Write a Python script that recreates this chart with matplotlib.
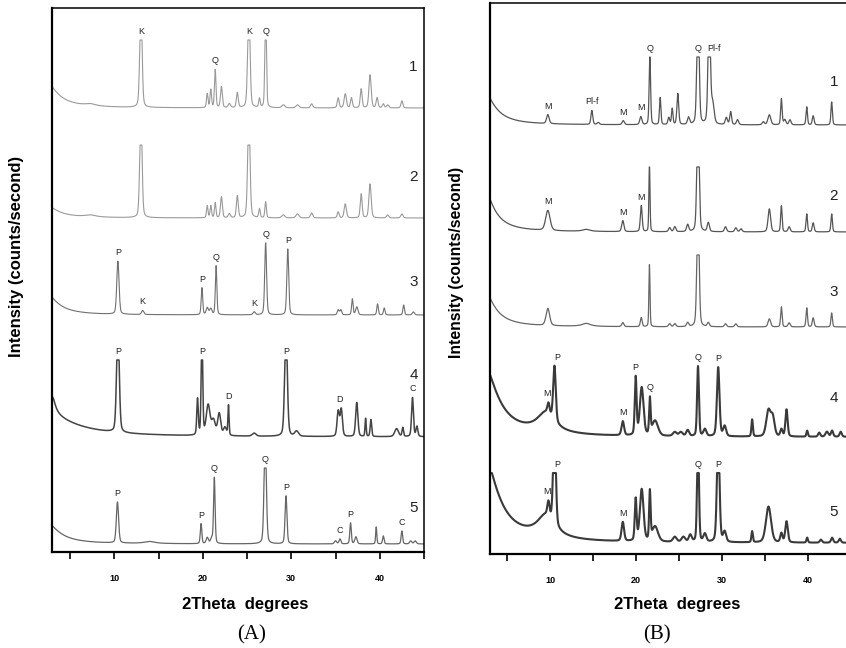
"""
XRD patterns, panels (A) and (B): five diffractograms each, stacked.
Curves are rebuilt from peak lists read off the original figure.
"""

import matplotlib
matplotlib.use("Agg")
import matplotlib.pyplot as plt
from matplotlib.ticker import MultipleLocator, FuncFormatter
import numpy as np

plt.rcParams["font.family"] = ["Liberation Sans", "DejaVu Sans"]

# -------------------------------------------------------------
# Data: (2theta, height, fwhm).  Heights in px above each baseline.
# -------------------------------------------------------------
# panel A
a_base = [444, 334, 237, 115, 8]
a_cap = [68, 73, 200, 77, 76]
a1_bg = [(2.0, 29, 3.2), (7.3, 2, 1.5)]
a1_pk = [(13.0, 110, 0.3), (20.5, 14, 0.2), (20.9, 18, 0.2), (21.4, 38, 0.2),
         (22.1, 21, 0.25), (23.0, 4, 0.3), (23.9, 15, 0.25), (25.2, 110, 0.3),
         (26.4, 9, 0.2), (27.1, 110, 0.2), (29.1, 3, 0.4), (30.7, 3, 0.4),
         (32.3, 4, 0.3), (35.3, 10, 0.25), (36.1, 14, 0.3), (36.8, 10, 0.25),
         (37.9, 19, 0.25), (38.9, 33, 0.3), (39.7, 10, 0.25), (40.4, 4, 0.25),
         (40.9, 3, 0.3), (42.5, 7, 0.25)]
a2_bg = [(2.0, 14, 3.2), (7.3, 2, 1.5)]
a2_pk = [(13.0, 110, 0.3), (20.5, 12, 0.2), (20.9, 12, 0.2), (21.4, 15, 0.2),
         (22.1, 21, 0.25), (23.0, 4, 0.3), (23.9, 22, 0.25), (25.2, 110, 0.3),
         (26.4, 9, 0.2), (27.1, 16, 0.2), (29.1, 3, 0.4), (30.7, 4, 0.4),
         (32.3, 5, 0.3), (35.3, 6, 0.25), (36.1, 14, 0.3), (37.9, 24, 0.25),
         (38.9, 34, 0.3), (40.9, 3, 0.3), (42.5, 4, 0.3)]
a3_bg = [(2.0, 24, 3.2)]
a3_pk = [(10.4, 53, 0.3), (13.2, 4, 0.3), (19.9, 27, 0.2), (20.5, 7, 0.3),
         (20.9, 6, 0.3), (21.5, 49, 0.2), (25.8, 3, 0.3), (27.1, 72, 0.25),
         (29.6, 66, 0.25), (35.3, 5, 0.25), (35.6, 5, 0.25), (36.9, 16, 0.2),
         (37.4, 8, 0.3), (39.75, 11, 0.2), (40.5, 7, 0.2), (42.7, 10, 0.2),
         (43.8, 3, 0.3)]
a4_bg = [(1.0, 30, 8.0), (3.0, 16, 0.8)]
a4_pk = [(10.4, 110, 0.35), (19.4, 36, 0.2), (19.9, 110, 0.2), (20.6, 30, 0.5),
         (21.2, 15, 0.5), (21.85, 22, 0.4), (22.5, 8, 0.4), (22.9, 30, 0.15),
         (25.8, 3, 0.5), (29.4, 110, 0.35), (30.6, 5, 0.5), (35.3, 25, 0.3),
         (35.65, 27, 0.3), (37.4, 34, 0.3), (38.4, 18, 0.15), (39.0, 17, 0.2),
         (41.9, 8, 0.5), (42.6, 9, 0.2), (43.7, 39, 0.25), (44.2, 10, 0.25)]
a5_bg = [(2.0, 24, 3.5), (14.0, 2, 1.5)]
a5_pk = [(10.35, 41, 0.3), (19.8, 20, 0.2), (20.5, 6, 0.3), (21.0, 5, 0.3),
         (21.3, 66, 0.2), (27.05, 110, 0.3), (29.4, 48, 0.25), (35.0, 3, 0.3),
         (35.5, 5, 0.25), (36.7, 21, 0.2), (37.3, 7, 0.3), (39.6, 17, 0.15),
         (40.4, 8, 0.2), (42.5, 13, 0.2), (43.5, 3, 0.3), (44.0, 3, 0.3)]

# (label, peak position[, text position])
a_labels = [
    [("K", 13.0), ("Q", 21.4), ("K", 25.2), ("Q", 27.1)],
    [],
    [("P", 10.4), ("K", 13.2), ("P", 19.9), ("Q", 21.5), ("K", 25.8),
     ("Q", 27.1), ("P", 29.6)],
    [("P", 10.4), ("P", 19.9), ("D", 22.9), ("P", 29.4), ("D", 35.65, 35.5),
     ("C", 43.7)],
    [("P", 10.35), ("P", 19.8), ("Q", 21.3), ("Q", 27.05), ("P", 29.4),
     ("C", 35.5), ("P", 36.7), ("C", 42.5)],
]

# panel B
b_base = [429, 322, 227, 117, 11]
b_cap = [68, 65, 72, 200, 70]
b1_bg = [(2.0, 38, 3.1)]
b1_pk = [(9.73, 9, 0.35), (14.85, 14, 0.25), (15.6, 2, 0.3), (18.5, 4, 0.3),
         (20.55, 8, 0.3), (21.6, 70, 0.2), (22.8, 27, 0.2), (23.8, 7, 0.25),
         (24.2, 16, 0.2), (24.85, 31, 0.25), (26.1, 7, 0.3), (27.2, 130, 0.3),
         (28.5, 130, 0.3), (28.9, 20, 0.4), (30.5, 7, 0.3), (31.0, 13, 0.25),
         (31.8, 5, 0.3), (34.8, 3, 0.3), (35.5, 10, 0.4), (36.9, 26, 0.2),
         (37.3, 5, 0.3), (37.9, 5, 0.3), (39.85, 18, 0.2), (40.6, 9, 0.25),
         (42.75, 23, 0.2)]
b2_bg = [(2.0, 50, 2.8), (14.2, 2, 1.0)]
b2_pk = [(9.73, 20, 0.6), (18.45, 11, 0.3), (20.6, 26, 0.25), (21.55, 68, 0.15),
         (23.9, 4, 0.3), (24.5, 5, 0.3), (26.0, 7, 0.3), (27.2, 130, 0.3),
         (28.4, 9, 0.3), (30.4, 5, 0.3), (31.6, 4, 0.3), (32.2, 3, 0.3),
         (35.5, 23, 0.35), (36.9, 26, 0.2), (37.8, 5, 0.3), (39.85, 18, 0.2),
         (40.6, 9, 0.25), (42.75, 18, 0.2)]
b3_bg = [(2.0, 42, 3.0), (14.2, 3, 1.2)]
b3_pk = [(9.73, 17, 0.5), (18.45, 4, 0.3), (20.6, 9, 0.25), (21.55, 62, 0.15),
         (23.9, 3, 0.3), (24.5, 3, 0.3), (26.0, 4, 0.3), (27.2, 130, 0.3),
         (28.4, 4, 0.3), (30.4, 3, 0.3), (31.6, 3, 0.3), (35.5, 8, 0.35),
         (36.9, 20, 0.2), (37.8, 4, 0.3), (39.85, 19, 0.2), (40.6, 9, 0.25),
         (42.75, 14, 0.2)]
b4_bg = [(2.0, 77, 4.0), (9.5, 20, 2.5)]
b4_pk = [(9.8, 10, 0.3), (10.5, 55, 0.35), (18.45, 14, 0.35), (19.95, 58, 0.25),
         (20.65, 48, 0.5), (21.6, 35, 0.2), (22.2, 15, 0.8), (24.5, 4, 0.5),
         (25.2, 4, 0.5), (26.0, 6, 0.4), (27.2, 70, 0.25), (28.0, 7, 0.4),
         (29.55, 69, 0.35), (30.3, 10, 0.4), (33.5, 17, 0.2), (35.4, 26, 0.6),
         (35.9, 18, 0.5), (36.9, 7, 0.3), (37.5, 27, 0.3), (39.9, 6, 0.2),
         (41.3, 4, 0.3), (42.2, 5, 0.4), (42.8, 6, 0.3), (43.8, 5, 0.3)]
b5_bg = [(2.0, 95, 4.0), (9.5, 22, 2.5)]
b5_pk = [(9.8, 14, 0.3), (10.5, 110, 0.35), (18.45, 19, 0.35), (19.95, 42, 0.25),
         (20.65, 52, 0.5), (21.6, 48, 0.2), (22.2, 15, 0.8), (24.5, 5, 0.5),
         (25.5, 5, 0.5), (26.3, 7, 0.4), (27.2, 110, 0.25), (28.0, 8, 0.4),
         (29.55, 110, 0.35), (30.3, 10, 0.4), (33.5, 11, 0.2), (35.4, 36, 0.7),
         (36.9, 9, 0.3), (37.5, 21, 0.35), (39.9, 5, 0.2), (41.5, 3, 0.3),
         (42.8, 5, 0.3), (43.7, 4, 0.3)]

b_labels = [
    [("M", 9.73), ("Pl-f", 14.85), ("M", 18.5), ("M", 20.55), ("Q", 21.6),
     ("Q", 27.2), ("Pl-f", 28.5, 29.1)],
    [("M", 9.73), ("M", 18.45), ("M", 20.6)],
    [],
    [("M", 9.8, 9.6), ("P", 10.5, 10.8), ("M", 18.45), ("P", 19.95),
     ("Q", 21.6), ("Q", 27.2), ("P", 29.55)],
    [("M", 9.8, 9.6), ("P", 10.5, 10.8), ("M", 18.45), ("Q", 27.2),
     ("P", 29.55)],
]

numbers = ["1", "2", "3", "4", "5"]

# -------------------------------------------------------------
# Helpers
# -------------------------------------------------------------
x = np.linspace(3.0, 45.0, 5000)


def lorentz(c, h, w):
    return h / (1 + ((x - c) / (w / 2)) ** 2)


def pvoigt(c, h, w, eta=0.3):
    g = np.exp(-4 * np.log(2) * ((x - c) / w) ** 2)
    return h * (eta * lorentz(c, 1, w) + (1 - eta) * g)


def build(bg, pk, cap):
    y = np.zeros_like(x)
    for c, h, w in bg:
        y += lorentz(c, h, w)
    for c, h, w in pk:
        y += pvoigt(c, h, w)
    return np.minimum(y, cap)


def setup(ax, ylim):
    ax.set_xlim(2.95, 45.0)
    ax.set_ylim(0, ylim)
    ax.set_yticks([])
    ax.xaxis.set_major_locator(MultipleLocator(5))
    ax.xaxis.set_major_formatter(
        FuncFormatter(lambda v, p: f"{v:.0f}" if round(v) % 10 == 0 else ""))
    ax.tick_params(axis="x", direction="out", length=5, width=1.2, pad=11,
                   labelsize=6.5)
    for t in ax.get_xticklabels():
        t.set_fontweight("bold")
    for s in ("left", "bottom"):
        ax.spines[s].set_linewidth(1.6)
    for s in ("top", "right"):
        ax.spines[s].set_linewidth(1.1)


def draw(ax, bgs, pks, bases, caps, labels, colors, lws):
    curves = []
    for bg, pk, b, cap, col, lw in zip(bgs, pks, bases, caps, colors, lws):
        y = b + build(bg, pk, cap)
        ax.plot(x, y, color=col, lw=lw, solid_joinstyle="round")
        curves.append(y)
    for y, labs in zip(curves, labels):
        for lab in labs:
            txt, pos = lab[0], lab[1]
            tx = lab[2] if len(lab) > 2 else pos
            yy = np.interp(pos, x, y)
            ax.text(tx, yy + 4, txt, ha="center", va="bottom", fontsize=6.5,
                    color="#222222")
    return curves


# -------------------------------------------------------------
# Plot
# -------------------------------------------------------------
W, H = 846, 648
fig = plt.figure(figsize=(W / 100, H / 100), dpi=100)

axA = fig.add_axes([52 / W, (H - 552) / H, (424 - 52) / W, 544 / H])
axB = fig.add_axes([490 / W, (H - 554) / H, (851 - 490) / W, 551 / H])

setup(axA, 544)
setup(axB, 551)
axB.set_xlim(3.0, 45.0)

draw(axA, [a1_bg, a2_bg, a3_bg, a4_bg, a5_bg],
     [a1_pk, a2_pk, a3_pk, a4_pk, a5_pk], a_base, a_cap, a_labels,
     ["#9a9a9a", "#9a9a9a", "#707070", "#444444", "#666666"],
     [0.8, 0.8, 0.8, 1.1, 0.9])
draw(axB, [b1_bg, b2_bg, b3_bg, b4_bg, b5_bg],
     [b1_pk, b2_pk, b3_pk, b4_pk, b5_pk], b_base, b_cap, b_labels,
     ["#555555", "#555555", "#666666", "#3a3a3a", "#3a3a3a"],
     [0.9, 0.9, 0.9, 1.5, 1.5])

# sample numbers
for n, yy in zip(numbers, [485, 375, 270, 177, 44]):
    axA.text(43.8, yy, n, ha="center", va="center", fontsize=11, color="#222222")
for n, yy in zip(numbers, [472, 358, 262, 156, 42]):
    axB.text(43.0, yy, n, ha="center", va="center", fontsize=11, color="#222222")

# axis titles
for xc, yc, fs in [(17, 256, 12), (457, 262, 11.3)]:
    fig.text(xc / W, 1 - yc / H, "Intensity (counts/second)", rotation=90,
             ha="center", va="center", fontsize=fs, fontweight="bold")
for xc in (245, 677):
    fig.text(xc / W, 1 - 604 / H, "2Theta  degrees", ha="center", va="center",
             fontsize=12, fontweight="bold")
for xc, t in [(252, "(A)"), (657, "(B)")]:
    fig.text(xc / W, 1 - 635 / H, t, ha="center", va="center", fontsize=15,
             family=["Liberation Serif", "DejaVu Serif"])

fig.savefig("out.png", dpi=100)
